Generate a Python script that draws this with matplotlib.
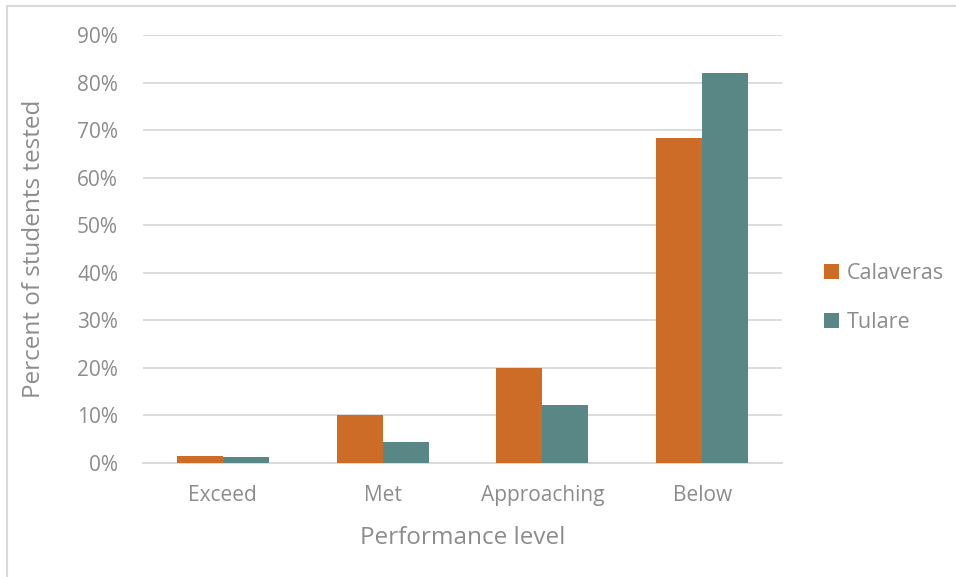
import matplotlib.pyplot as plt
import numpy as np
from matplotlib.patches import Rectangle

# data
levels = ['Exceed', 'Met', 'Approaching', 'Below']
calaveras = [1.5, 10.1, 20.0, 68.4]
tulare = [1.3, 4.4, 12.2, 82.0]
yticks = [0, 10, 20, 30, 40, 50, 60, 70, 80, 90]

orange = '#CC6C27'
teal = '#598785'
grey = '#8C8C8C'
gridc = '#D9D9D9'

plt.rcParams['font.family'] = ['Open Sans', 'DejaVu Sans']

fig = plt.figure(figsize=(9.56, 5.77), dpi=100)
ax = fig.add_axes([143/956, 1-463/577, (782-143)/956, (463-35)/577])

# chart area border (top and left visible in the reference)
fig.patches.append(Rectangle((7/956, -0.05), 1.1, 1-6/577+0.05, transform=fig.transFigure,
                             fill=False, edgecolor='#D9D9D9', linewidth=1.5))

x = np.arange(len(levels))
w = 0.288
ax.bar(x - w/2, calaveras, w, color=orange, label='Calaveras', zorder=3)
ax.bar(x + w/2, tulare, w, color=teal, label='Tulare', zorder=3)

ax.set_xlim(-0.5, len(levels) - 0.5)
ax.set_ylim(0, 90)
ax.set_yticks(yticks)
ax.set_yticklabels([f'{v}%' for v in yticks])
ax.set_xticks(x)
ax.set_xticklabels(levels)
ax.yaxis.grid(True, color=gridc, linewidth=1.3, zorder=0)
ax.set_axisbelow(True)
for s in ['top', 'right', 'left']:
    ax.spines[s].set_visible(False)
ax.spines['bottom'].set_color(gridc)
ax.spines['bottom'].set_linewidth(1.3)
ax.tick_params(axis='both', length=0, labelsize=15, colors=grey)
ax.tick_params(axis='y', pad=18)
ax.tick_params(axis='x', pad=16)

ax.set_ylabel('Percent of students tested', fontsize=17.5, color=grey, labelpad=22)
ax.set_xlabel('Performance level', fontsize=17.5, color=grey, labelpad=14)

leg = ax.legend(loc='center left', bbox_to_anchor=(1.035, 0.385), frameon=False,
                fontsize=15.5, labelcolor=grey, handlelength=0.7, handleheight=0.7,
                handletextpad=0.35, labelspacing=1.3)

fig.savefig('out.png', dpi=100)
